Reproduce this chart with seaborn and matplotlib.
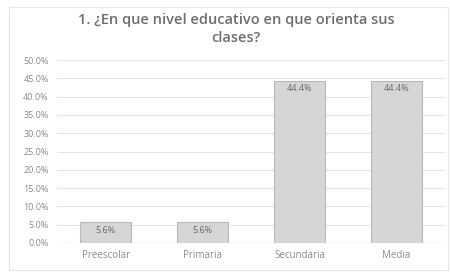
import matplotlib
matplotlib.use("Agg")
import matplotlib.pyplot as plt
import seaborn as sns
import pandas as pd

# data
niveles = ["Preescolar", "Primaria", "Secundaria", "Media"]
porcentajes = [5.6, 5.6, 44.4, 44.4]
titulo = "1. ¿En que nivel educativo en que orienta sus\nclases?"

df = pd.DataFrame({"nivel": niveles, "pct": porcentajes})

sns.set_style("white")
plt.rcParams['font.family'] = ['Open Sans', 'DejaVu Sans']

fig = plt.figure(figsize=(4.5, 2.73), dpi=100)
ax = fig.add_axes([0.127, 0.110, 0.862, 0.670])

sns.barplot(data=df, x="nivel", y="pct", ax=ax, color="#d6d6d6",
            edgecolor="#b8b8b8", linewidth=0.8, width=0.52, saturation=1)

ax.set_ylim(0, 50)
ax.set_xlim(-0.5, 3.5)
ax.set_yticks(range(0, 51, 5))
ax.set_yticklabels([f"{v:.1f}%" for v in range(0, 51, 5)])
ax.yaxis.grid(True, color="#e4e4e4", linewidth=0.8)
ax.set_axisbelow(True)
for s in ax.spines.values():
    s.set_visible(False)
ax.axhline(0, color="#d0d0d0", linewidth=0.8)
ax.tick_params(axis="y", length=0, labelsize=6.5, labelcolor="#8a8a8a", pad=6)
ax.tick_params(axis="x", length=0, labelsize=7, labelcolor="#8a8a8a", pad=5)
ax.set_xlabel("")
ax.set_ylabel("")

for i, v in enumerate(porcentajes):
    ax.text(i, v - 1.0, f"{v:.1f}%", ha="center", va="top", fontsize=6.5, color="#6a6a6a")

fig.text(0.525, 0.895, titulo, ha="center", va="center", fontsize=10.5,
         fontweight="semibold", color="#6e6e6e", linespacing=1.35)

# faint chart border
fig.patches.append(plt.Rectangle((0.02, 0.01), 0.975, 0.965, transform=fig.transFigure,
                                 fill=False, edgecolor="#e6e6e6", linewidth=0.8))

fig.savefig("out.png", dpi=100, facecolor="white")
